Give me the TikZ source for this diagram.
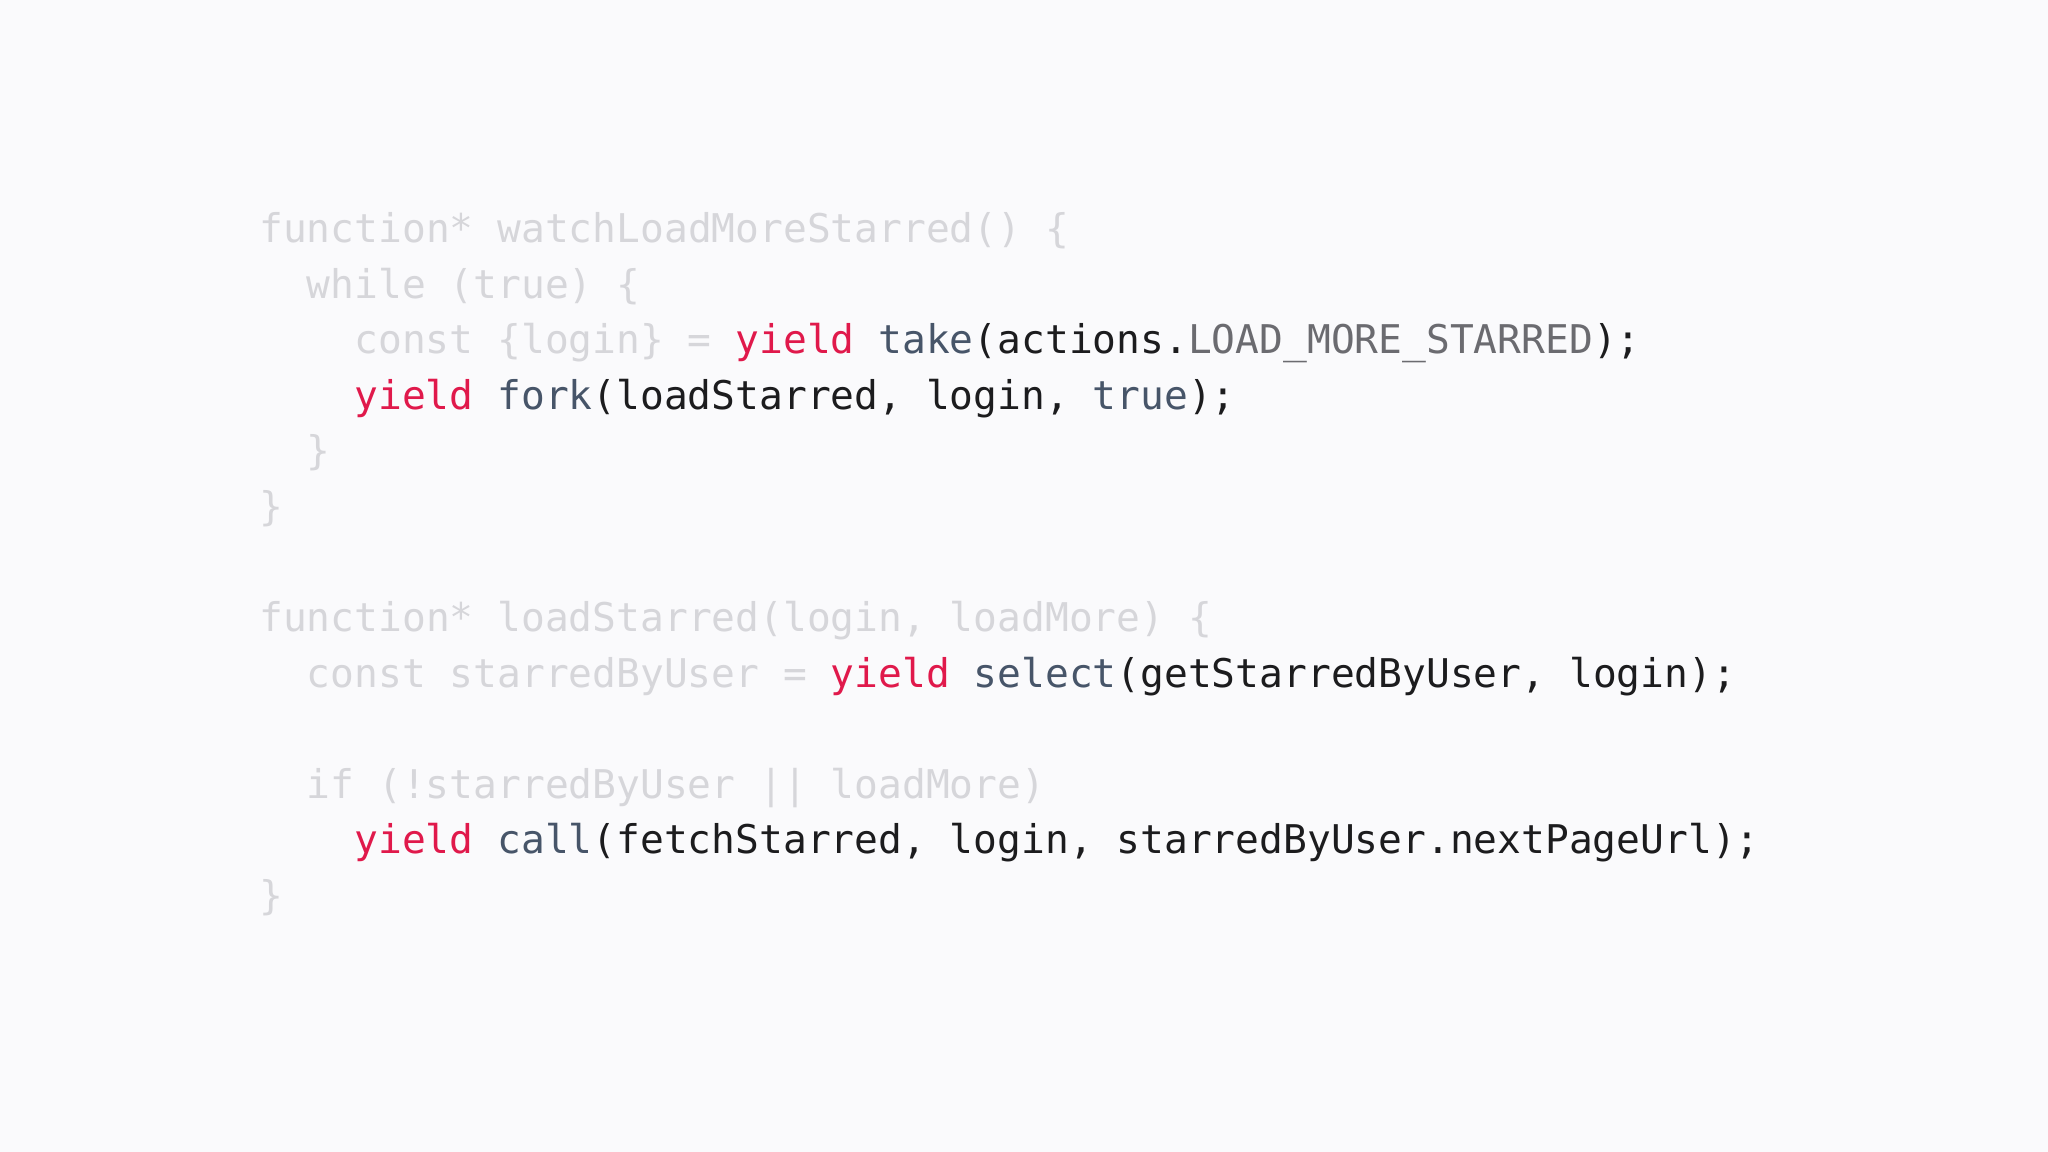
\documentclass[tikz,border=0pt]{standalone}
\usepackage{fontspec}
\setmonofont{DejaVu Sans Mono}
\definecolor{bg}{HTML}{FAFAFC}
\definecolor{fade}{HTML}{D6D6DA}
\definecolor{kw}{HTML}{E0194B}
\definecolor{fn}{HTML}{475569}
\definecolor{tx}{HTML}{1C1C1E}
\definecolor{cst}{HTML}{6B6B70}
\tikzset{codeline/.style={anchor=base west,inner sep=0pt,font=\ttfamily\fontsize{11.25}{13}\selectfont,text=fade}}
\newcommand{\K}[1]{\textcolor{kw}{#1}}
\newcommand{\F}[1]{\textcolor{fn}{#1}}
\newcommand{\T}[1]{\textcolor{tx}{#1}}
\newcommand{\C}[1]{\textcolor{cst}{#1}}
\begin{document}
\begin{tikzpicture}[x=0.01cm,y=-0.01cm]
\fill[bg] (0,0) rectangle (2048,1152);
\useasboundingbox (0,0) rectangle (2048,1152);
\node[codeline] (l1) at (258.6,243) {function* watchLoadMoreStarred() \{};
\node[codeline] (l2) at (306.2,298.6) {while (true) \{};
\node[codeline] (l3) at (353.8,354) {const \{login\} = \K{yield} \F{take}\T{(actions.}\C{LOAD\_MORE\_STARRED}\T{);}};
\node[codeline] (l4) at (353.8,410) {\K{yield} \F{fork}\T{(loadStarred, login, }\F{true}\T{);}};
\node[codeline] (l5) at (306.2,465) {\}};
\node[codeline] (l6) at (258.6,521) {\}};
\node[codeline] (l7) at (258.6,632) {function* loadStarred(login, loadMore) \{};
\node[codeline] (l8) at (306.2,687) {const starredByUser = \K{yield} \F{select}\T{(getStarredByUser, login);}};
\node[codeline] (l9) at (306.2,798) {if (!starredByUser || loadMore)};
\node[codeline] (l10) at (353.8,853) {\K{yield} \F{call}\T{(fetchStarred, login, starredByUser.nextPageUrl);}};
\node[codeline] (l11) at (258.6,909) {\}};
\end{tikzpicture}
\end{document}
